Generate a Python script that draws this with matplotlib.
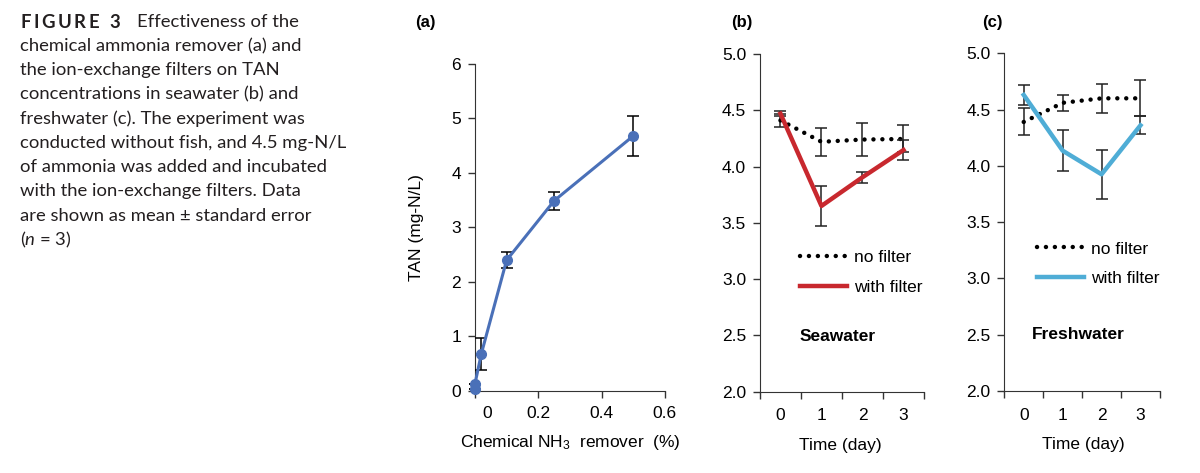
import matplotlib.pyplot as plt
from matplotlib.lines import Line2D
from matplotlib.transforms import ScaledTranslation

FS = 12.5
plt.rcParams['font.family'] = ['Liberation Sans', 'DejaVu Sans']
plt.rcParams['font.size'] = FS
plt.rcParams['mathtext.fontset'] = 'custom'
plt.rcParams['mathtext.rm'] = 'Liberation Sans'
plt.rcParams['mathtext.it'] = 'Lato:italic'

# (a) chemical remover dose vs TAN
remover_pct = [0, 0, 0.02, 0.1, 0.25, 0.5]
remover_tan = [0.04, 0.13, 0.68, 2.40, 3.49, 4.68]
remover_err = [0.0, 0.0, 0.30, 0.15, 0.165, 0.37]

# (b), (c) ion-exchange filters over time
days = [0, 1, 2, 3]
sea_nofilter = [4.41, 4.22, 4.24, 4.245]
sea_nofilter_err = [0.06, 0.125, 0.15, 0.12]
sea_filter = [4.47, 3.65, 3.905, 4.147]
sea_filter_err = [0.02, 0.18, 0.05, 0.09]
fresh_nofilter = [4.39, 4.56, 4.60, 4.60]
fresh_nofilter_err = [0.12, 0.07, 0.13, 0.16]
fresh_filter = [4.63, 4.135, 3.925, 4.36]
fresh_filter_err = [0.09, 0.185, 0.22, 0.08]

caption = ["chemical ammonia remover (a) and",
           "the ion-exchange filters on TAN",
           "concentrations in seawater (b) and",
           "freshwater (c). The experiment was",
           "conducted without fish, and 4.5 mg-N/L",
           "of ammonia was added and incubated",
           "with the ion-exchange filters. Data",
           "are shown as mean \u00b1 standard error",
           "($\\mathit{n}$ = 3)"]

BLUE = '#4a70b8'
RED = '#c8282e'
LBLUE = '#4fadd6'

fig = plt.figure(figsize=(12, 4.73), dpi=100)

# caption
cap_font = dict(family=['Lato', 'DejaVu Sans'], fontsize=13.3, color='#231f20', va='center')
r = fig.canvas.get_renderer()
x = 20 / 1200
for ch in "FIGURE 3":
    t = fig.text(x, 1 - 22 / 473, ch, fontweight='bold', **cap_font)
    w = t.get_window_extent(r).width
    if ch == ' ':
        w = 5
    x += (w + 2.6) / 1200
fig.text(137 / 1200, 1 - 22 / 473, "Effectiveness of the", **cap_font)
for i, line in enumerate(caption):
    fig.text(20 / 1200, 1 - (22 + 24.2 * (i + 1)) / 473, line, **cap_font)


def style(ax):
    ax.spines['top'].set_visible(False)
    ax.spines['right'].set_visible(False)
    ax.spines['left'].set_color('#333333')
    ax.spines['bottom'].set_color('#333333')
    ax.tick_params(direction='out', length=5, width=1, color='#333333', labelsize=FS, pad=5)


# panel (a)
axa = fig.add_axes([0.3958, 0.1734, 0.1583, 0.6913])
style(axa)
axa.errorbar(remover_pct, remover_tan, yerr=remover_err, color=BLUE, lw=2.2,
             marker='o', ms=7, ecolor='black', elinewidth=1.1, capsize=4, capthick=1.1,
             clip_on=False, zorder=3)
axa.set_xlim(0, 0.6)
axa.set_ylim(0, 6)
axa.set_xticks([0, 0.2, 0.4, 0.6])
axa.set_xticklabels(['0', '0.2', '0.4', '0.6'])
axa.tick_params(axis='x', pad=6)
lab0 = axa.get_xticklabels()[0]
lab0.set_transform(lab0.get_transform() + ScaledTranslation(0.12, 0, fig.dpi_scale_trans))
axa.set_yticks(range(0, 7))
axa.set_ylabel('TAN (mg-N/L)')
axa.yaxis.set_label_coords(-0.27, 0.5)
axa.set_xlabel('Chemical NH$_3$  remover  (%)')
axa.xaxis.set_label_coords(0.5, -0.128)
fig.text(425 / 1200, 1 - 22 / 473, '(a)', fontweight='bold', ha='center', va='center',
         fontsize=12)


def filter_panel(ax, nof, nof_err, wf, wf_err, col, name, leg_xy, name_xy):
    style(ax)
    ax.errorbar(days, nof, yerr=nof_err, color='black', lw=3.2, ls=(0, (0.01, 2.0)),
                dash_capstyle='round', ecolor='#222222', elinewidth=1.1, capsize=4,
                capthick=1.1, zorder=3)
    ax.errorbar(days, wf, yerr=wf_err, color=col, lw=3.2, ecolor='#222222',
                elinewidth=1.1, capsize=4, capthick=1.1, zorder=4)
    ax.set_xlim(-0.5, 3.5)
    ax.set_ylim(2.0, 5.0)
    ax.set_xticks([-0.5, 0.5, 1.5, 2.5, 3.5])
    ax.set_xticklabels([])
    ax.set_xticks(days, minor=True)
    ax.set_xticklabels([str(d) for d in days], minor=True)
    ax.tick_params(axis='x', which='minor', length=0, labelsize=FS, pad=12)
    ax.set_yticks([2.0, 2.5, 3.0, 3.5, 4.0, 4.5, 5.0])
    ax.set_yticklabels(['2.0', '2.5', '3.0', '3.5', '4.0', '4.5', '5.0'])
    ax.set_xlabel('Time (day)')
    handles = [Line2D([], [], color='black', lw=3.2, ls=(0, (0.01, 2.0)), dash_capstyle='round'),
               Line2D([], [], color=col, lw=3.2)]
    ax.legend(handles, ['no filter', 'with filter'], loc='upper left', bbox_to_anchor=leg_xy,
              frameon=False, handlelength=2.7, handletextpad=0.4, labelspacing=0.85,
              borderaxespad=0, borderpad=0, fontsize=FS)
    ax.text(name_xy[0], name_xy[1], name, transform=ax.transAxes, fontweight='bold',
            ha='left', va='center', fontsize=FS)


axb = fig.add_axes([0.6333, 0.172, 0.1367, 0.7138])
filter_panel(axb, sea_nofilter, sea_nofilter_err, sea_filter, sea_filter_err, RED,
             'Seawater', (0.244, 0.42), (0.244, 0.162))
axb.xaxis.set_label_coords(0.49, -0.137)
fig.text(742 / 1200, 1 - 22 / 473, '(b)', fontweight='bold', ha='center', va='center',
         fontsize=12)

axc = fig.add_axes([0.8369, 0.1734, 0.1297, 0.7139])
filter_panel(axc, fresh_nofilter, fresh_nofilter_err, fresh_filter, fresh_filter_err, LBLUE,
             'Freshwater', (0.21, 0.443), (0.178, 0.166))
axc.xaxis.set_label_coords(0.51, -0.137)
fig.text(992 / 1200, 1 - 22 / 473, '(c)', fontweight='bold', ha='center', va='center',
         fontsize=12)

fig.savefig('out.png', dpi=100)
